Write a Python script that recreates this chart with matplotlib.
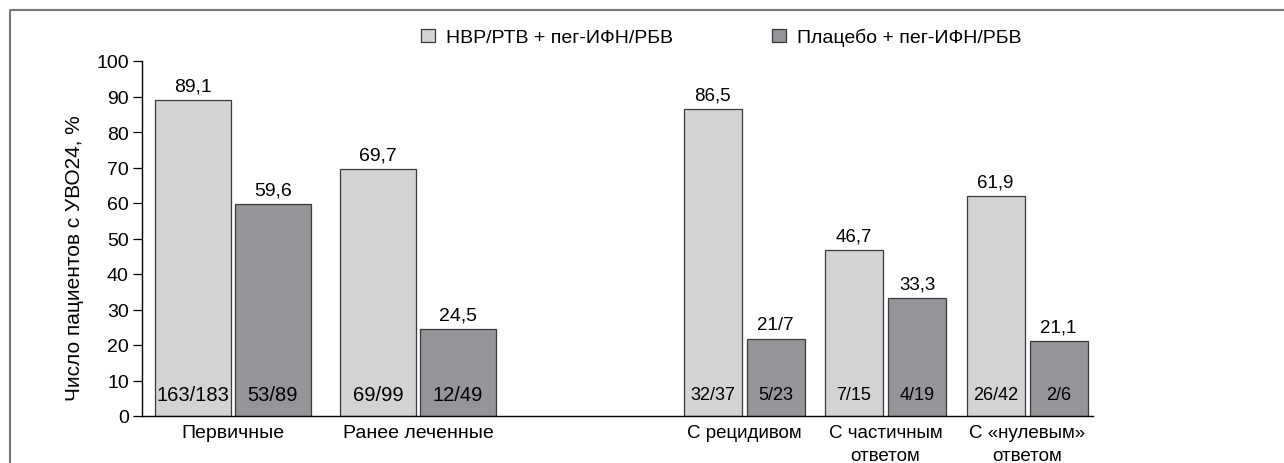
import matplotlib
matplotlib.use("Agg")
import matplotlib.pyplot as plt
from matplotlib.patches import Patch
from matplotlib.lines import Line2D
from matplotlib import font_manager

plt.rcParams['font.family'] = ['Liberation Sans', 'DejaVu Sans']

names = {f.name for f in font_manager.fontManager.ttflist}
narrow = 'Liberation Sans Narrow' if 'Liberation Sans Narrow' in names else 'Liberation Sans'
nsize = 14 if narrow != 'Liberation Sans' else 13

categories = ['Первичные', 'Ранее леченные', 'С рецидивом',
              'С частичным\nответом', 'С «нулевым»\nответом']
series_names = ['НВР/РТВ + пег-ИФН/РБВ', 'Плацебо + пег-ИФН/РБВ']
active = [89.1, 69.7, 86.5, 46.7, 61.9]
placebo = [59.6, 24.5, 21.7, 33.3, 21.1]
active_labels = ['89,1', '69,7', '86,5', '46,7', '61,9']
placebo_labels = ['59,6', '24,5', '21/7', '33,3', '21,1']
active_n = ['163/183', '69/99', '32/37', '7/15', '26/42']
placebo_n = ['53/89', '12/49', '5/23', '4/19', '2/6']

# layout (axis units ~ pixels)
centers = [91, 276, 602, 743.5, 885]
widths = [76, 76, 58, 58, 58]
offsets = [40, 40, 31.5, 31.5, 31.5]
narrow_grp = [False, False, True, True, True]

light = '#d2d3d5'
dark = '#939598'
edge = '#3a3a3a'

fig = plt.figure(figsize=(12.84, 4.64), dpi=100)
ax = fig.add_axes([142 / 1284, 1 - 417 / 464, 951 / 1284, 355 / 464])

for i in range(len(categories)):
    fam = narrow if narrow_grp[i] else 'Liberation Sans'
    vs = nsize + 0.5 if narrow_grp[i] else 14
    fs = nsize if narrow_grp[i] else 14.5
    xa = centers[i] - offsets[i]
    xp = centers[i] + offsets[i]
    ax.bar(xa, active[i], width=widths[i], color=light, edgecolor=edge, linewidth=0.9)
    ax.bar(xp, placebo[i], width=widths[i], color=dark, edgecolor=edge, linewidth=0.9)
    ax.annotate(active_labels[i], (xa, active[i]), xytext=(0, 4), textcoords='offset points',
                ha='center', va='bottom', fontsize=vs, family=fam)
    ax.annotate(placebo_labels[i], (xp, placebo[i]), xytext=(0, 4), textcoords='offset points',
                ha='center', va='bottom', fontsize=vs, family=fam)
    ax.text(xa, 6, active_n[i], ha='center', va='center', fontsize=fs, family=fam)
    ax.text(xp, 6, placebo_n[i], ha='center', va='center', fontsize=fs, family=fam)

ax.set_xlim(0, 951)
ax.set_ylim(0, 100)
ax.set_yticks(range(0, 101, 10))
ax.set_xticks(centers)
ax.set_xticklabels(categories, fontsize=14, linespacing=1.4)
for lbl, nar in zip(ax.get_xticklabels(), narrow_grp):
    if nar:
        lbl.set_family(narrow)
        lbl.set_fontsize(nsize + 0.5)
ax.tick_params(axis='x', length=0, pad=6)
ax.tick_params(axis='y', length=6.5, width=0.9, labelsize=14, pad=3)
for s in ['top', 'right']:
    ax.spines[s].set_visible(False)
for s in ['left', 'bottom']:
    ax.spines[s].set_linewidth(1.0)
ylab = ax.set_ylabel('Число пациентов с УВО24, %', fontsize=15)
ylab.set_va('center')
ax.yaxis.set_label_coords(-0.0705, 0.448)

handles = [Patch(facecolor=light, edgecolor=edge, linewidth=0.9),
           Patch(facecolor=dark, edgecolor=edge, linewidth=0.9)]
fig.legend(handles, series_names, loc='center', bbox_to_anchor=(721 / 1284, 1 - 38 / 464),
           ncol=2, frameon=False, fontsize=14, handlelength=0.72, handleheight=0.62,
           handletextpad=0.57, columnspacing=5.1)

# outer frame (top and left only)
fig.add_artist(Line2D([9.5 / 1284, 9.5 / 1284, 1], [0, 1 - 10.5 / 464, 1 - 10.5 / 464],
                      transform=fig.transFigure, color='#7a7a7a', linewidth=1.5))

fig.savefig('out.png', dpi=100)
